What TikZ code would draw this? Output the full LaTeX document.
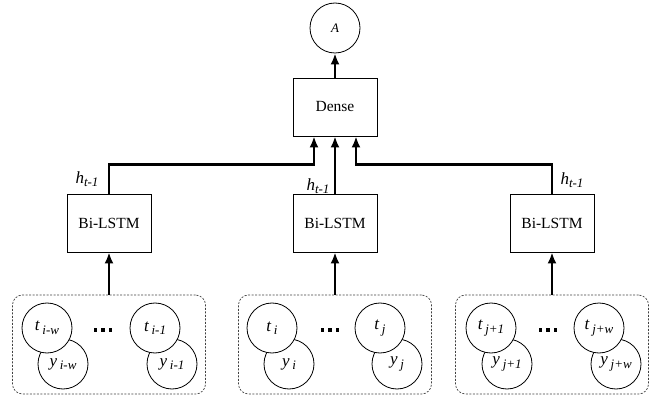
\documentclass[tikz,border=0pt]{standalone}
\usepackage{fontspec}
\setmainfont{Liberation Serif}
\usetikzlibrary{arrows.meta,calc}

\begin{document}
\begin{tikzpicture}[x=1pt,y=-1pt]
  \tikzset{>={Latex[length=11pt,width=9pt]}}
  \tikzset{box/.style={draw,line width=0.8pt,minimum width=84pt,minimum height=58pt,
      inner sep=0pt,font=\fontsize{15.5}{16}\selectfont}}
  \tikzset{var/.style={draw,circle,line width=0.8pt,minimum size=50pt,inner sep=0pt,
      fill=white,font=\fontsize{17}{17}\selectfont\itshape}}
  \tikzset{win/.style={draw=black!75,dash pattern=on 2pt off 1.5pt,line width=0.7pt,
      rounded corners=10pt,minimum width=193pt,minimum height=99pt}}
  \tikzset{conn/.style={->,line width=2.5pt}}
  \tikzset{hlab/.style={font=\fontsize{17}{17}\selectfont\itshape}}
  \newcommand\subvar[2]{#1\,\raisebox{-0.45ex}{\fontsize{13}{13}\selectfont #2}}
  \newcommand\skipdots{\rule{3.5pt}{3.5pt}\hspace{4pt}\rule{3.5pt}{3.5pt}\hspace{4pt}\rule{3.5pt}{3.5pt}}
  \useasboundingbox (0,0) rectangle (662,401);

  % output and dense layer
  \node[var,font=\fontsize{13}{13}\selectfont\itshape] (out) at (335,28) {A};
  \node[box] (dense) at (335,107) {Dense};
  \coordinate (dL) at ([xshift=-21pt]dense.south);
  \coordinate (dR) at ([xshift=21pt]dense.south);

  % the three Bi-LSTM blocks
  \node[box] (lstmL) at (109,223) {Bi-LSTM};
  \node[box] (lstmM) at (335,223) {Bi-LSTM};
  \node[box] (lstmR) at (552,223) {Bi-LSTM};

  % input windows
  \node[win] (winL) at (109,344.5) {};
  \node[win] (winM) at (335,344.5) {};
  \node[win] (winR) at (552,344.5) {};

  % left window: y drawn first, t covers it
  \node[var] (yiw) at (63,364) {\subvar{y}{i-w}};
  \node[var] (tiw) at (47,328) {\subvar{t}{i-w}};
  \node (dotsL) at (103,330) {\skipdots};
  \node[var] (yi1) at (172,364) {\subvar{y}{i-1}};
  \node[var] (ti1) at (155,328) {\subvar{t}{i-1}};

  % middle window
  \node[var] (yi) at (289,364) {\subvar{y}{i}};
  \node[var] (ti) at (272,328) {\subvar{t}{i}};
  \node (dotsM) at (330,330) {\skipdots};
  \node[var] (yj) at (397,364) {\subvar{y}{j}};
  \node[var] (tj) at (380,328) {\subvar{t}{j}};

  % right window
  \node[var] (yj1) at (507,364) {\subvar{y}{j+1}};
  \node[var] (tj1) at (491,328) {\subvar{t}{j+1}};
  \node (dotsR) at (548,330) {\skipdots};
  \node[var] (yjw) at (616,364) {\subvar{y}{j+w}};
  \node[var] (tjw) at (599,328) {\subvar{t}{j+w}};

  % connectors
  \draw[conn] (winL.north) -- (lstmL.south);
  \draw[conn] (winM.north) -- (lstmM.south);
  \draw[conn] (winR.north) -- (lstmR.south);
  \draw[conn] (lstmL.north) -- ++(0,-29) -| (dL);
  \draw[conn] (lstmM.north) -- (dense.south);
  \draw[conn] (lstmR.north) -- ++(0,-29) -| (dR);
  \draw[conn] (dense.north) -- (out.south);

  % hidden state labels
  \node[hlab] (hL) at (87,179) {h\raisebox{-0.45ex}{\fontsize{13}{13}\selectfont t-1}};
  \node[hlab] (hM) at (318,186) {h\raisebox{-0.45ex}{\fontsize{13}{13}\selectfont t-1}};
  \node[hlab] (hR) at (572,180) {h\raisebox{-0.45ex}{\fontsize{13}{13}\selectfont t-1}};
\end{tikzpicture}
\end{document}
